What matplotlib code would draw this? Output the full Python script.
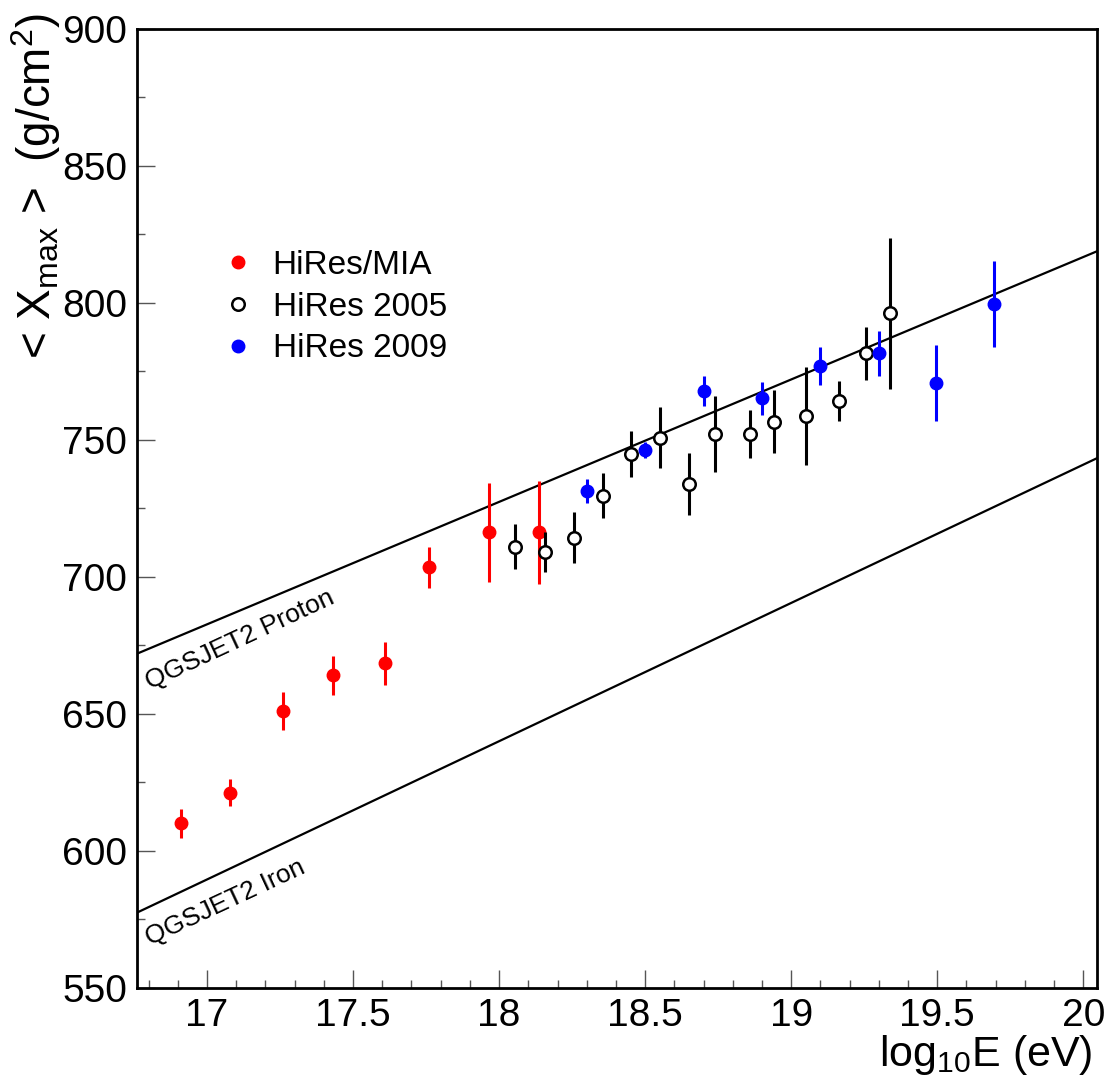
import numpy as np
import matplotlib
matplotlib.use("Agg")
import matplotlib.pyplot as plt
from matplotlib.ticker import MultipleLocator
from matplotlib.lines import Line2D

plt.rcParams['font.family'] = ['Liberation Sans', 'DejaVu Sans']
plt.rcParams['mathtext.fontset'] = 'custom'
plt.rcParams['mathtext.rm'] = 'Liberation Sans'
plt.rcParams['mathtext.it'] = 'Liberation Sans:italic'

# HiRes/MIA
mia_x = [16.91, 17.08, 17.26, 17.43, 17.61, 17.76, 17.965, 18.135]
mia_y = [610.2, 621.3, 651.0, 664.1, 668.5, 703.5, 716.3, 716.3]
mia_e = [5.3, 5.0, 7.0, 7.0, 7.8, 7.5, 18.0, 18.9]

# HiRes 2005
h05_x = [18.055, 18.158, 18.255, 18.355, 18.45, 18.55, 18.65, 18.74, 18.86, 18.94, 19.05, 19.165, 19.255, 19.34]
h05_y = [711.0, 709.2, 714.3, 729.6, 744.8, 750.8, 734.0, 752.2, 752.2, 756.7, 758.8, 764.2, 781.6, 796.2]
h05_e = [8.2, 7.3, 9.3, 8.2, 8.4, 11.2, 11.2, 14.0, 8.8, 11.4, 18.0, 7.4, 9.7, 27.6]

# HiRes 2009
h09_x = [18.30, 18.50, 18.70, 18.90, 19.10, 19.30, 19.495, 19.695]
h09_y = [731.4, 746.4, 767.9, 765.2, 777.0, 781.6, 770.9, 799.5]
h09_e = [4.4, 3.0, 5.5, 6.0, 7.1, 8.2, 13.8, 15.7]

# QGSJET2 predictions (straight lines)
model_x = [16.76, 20.05]
proton_y = [672.0, 819.0]
iron_y = [577.5, 743.5]


def plot_data():
	fig = plt.figure(figsize=(11.08, 10.78), dpi=100)
	ax = fig.add_axes([0.1236, 0.0835, 0.8664, 0.8896])

	ax.plot(model_x, proton_y, c="black", linewidth=1.6, zorder=2)
	ax.plot(model_x, iron_y, c="black", linewidth=1.6, zorder=2)

	ax.errorbar(mia_x, mia_y, yerr=mia_e, fmt="o", color="#ff0000", ms=9, elinewidth=2.2,
		capsize=0, zorder=3)
	ax.errorbar(h05_x, h05_y, yerr=h05_e, fmt="o", color="black", mfc="white", mec="black",
		mew=1.8, ms=9, elinewidth=2.2, capsize=0, zorder=4)
	ax.errorbar(h09_x, h09_y, yerr=h09_e, fmt="o", color="#0000ff", ms=9, elinewidth=2.2,
		capsize=0, zorder=5)

	ax.text(16.805, 658.8, "QGSJET2 Proton", rotation=25, rotation_mode="anchor",
		fontsize=19, ha="left", va="baseline")
	ax.text(16.805, 565.7, "QGSJET2 Iron", rotation=25, rotation_mode="anchor",
		fontsize=19, ha="left", va="baseline")

	ax.set_xlim(16.76, 20.047)
	ax.set_ylim(550, 900)
	ax.xaxis.set_major_locator(MultipleLocator(0.5))
	ax.xaxis.set_minor_locator(MultipleLocator(0.1))
	ax.yaxis.set_major_locator(MultipleLocator(50))
	ax.yaxis.set_minor_locator(MultipleLocator(25))
	ax.xaxis.set_major_formatter(plt.FuncFormatter(lambda v, p: "%g" % v))
	ax.tick_params(which="both", direction="in", color="#555555", width=1.0, labelsize=28, top=False, right=False)
	ax.tick_params(which="major", length=13, pad=7)
	ax.tick_params(which="minor", length=6)
	for s in ax.spines.values():
		s.set_linewidth(2.0)

	ax.set_ylabel(r"< X$_{\mathrm{max}}$ >  (g/cm$^{2}$)", fontsize=33, loc="top")
	ax.yaxis.set_label_coords(-0.077, 1.017)
	ax.set_xlabel(r"log$_{10}$E (eV)", fontsize=31, loc="right")
	ax.xaxis.set_label_coords(0.996, -0.047)

	handles = [
		Line2D([], [], ls="none", marker="o", color="#ff0000", ms=9),
		Line2D([], [], ls="none", marker="o", mfc="white", mec="black", mew=1.8, ms=9),
		Line2D([], [], ls="none", marker="o", color="#0000ff", ms=9),
	]
	labels = ["HiRes/MIA", "HiRes 2005", "HiRes 2009"]
	ax.legend(handles, labels, loc="upper left", bbox_to_anchor=(0.06, 0.794), frameon=False, fontsize=24,
		handlelength=1.2, handletextpad=0.44, labelspacing=0.32, borderpad=0.2)

	fig.savefig("out.png", dpi=100)


def main():
	plot_data()


if __name__ == "__main__":
	main()
